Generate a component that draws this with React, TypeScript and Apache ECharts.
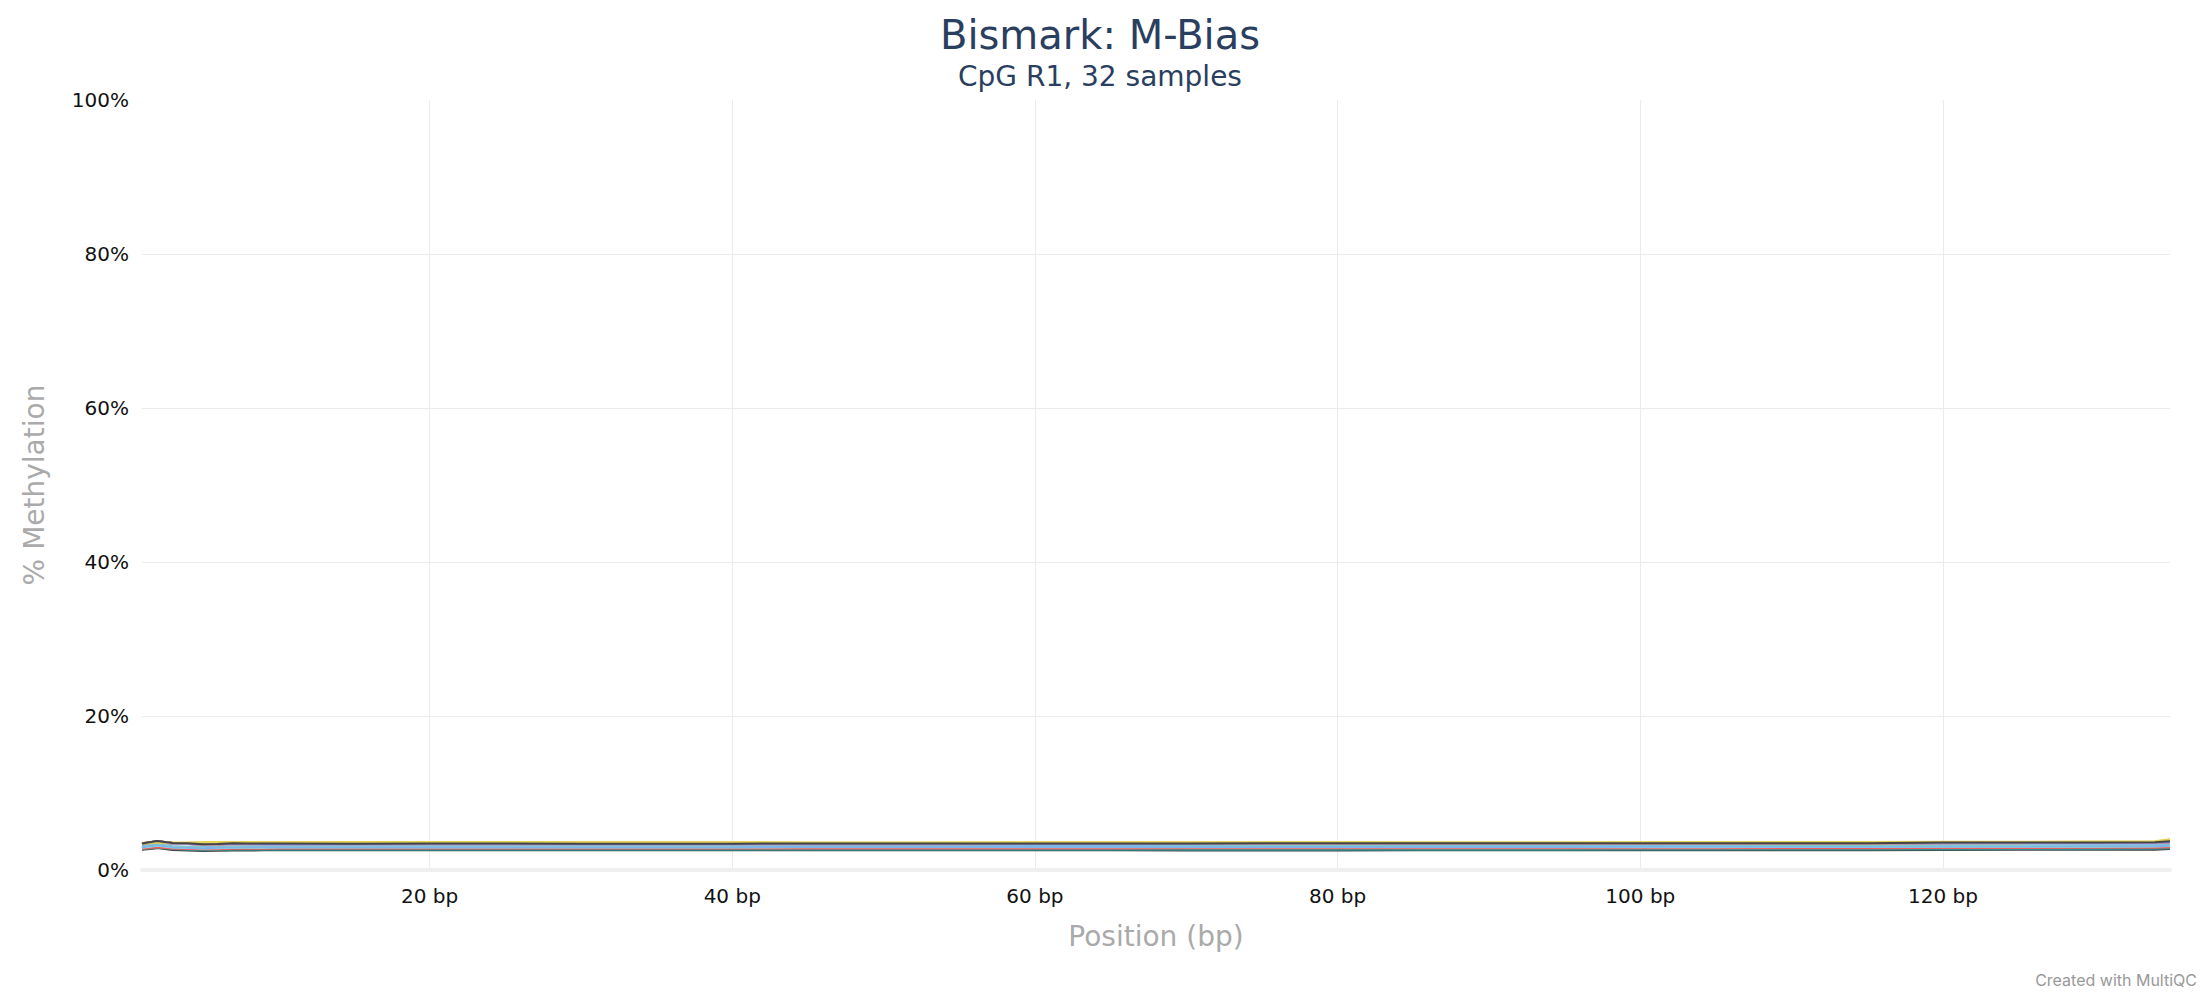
import React, { useEffect, useRef } from "react";
import * as echarts from "echarts";

const TITLE = "Bismark: M-Bias";
const SUBTITLE = "CpG R1, 32 samples";
const X_NAME = "Position (bp)";
const Y_NAME = "% Methylation";
const X_TICKS = [20, 40, 60, 80, 100, 120];
const Y_TICKS = [0, 20, 40, 60, 80, 100];
const Y_GRID = [0, 20, 40, 60, 80];
const COLORS = ["#7cb5ec", "#434348", "#90ed7d", "#f7a35c", "#8085e9", "#f15c80", "#e4d354", "#2b908f", "#f45b5b", "#91e8e1"];

// positions (bp) at which each sample's methylation is read
const POS = [1, 2, 3, 4, 5, 6, 7, 8, 9, 10, 15, 20, 25, 30, 35, 40, 45, 50, 55, 60, 65, 70, 75, 80, 85, 90, 95, 100, 105, 110, 115, 120, 125, 130, 134, 135];

const S01 = [2.98,3.25,3.00,2.92,2.86,2.90,2.95,2.96,2.97,2.98,2.99,3.00,3.00,3.00,3.00,3.00,3.01,3.01,3.01,3.01,3.01,3.01,3.02,3.02,3.02,3.03,3.03,3.04,3.04,3.05,3.05,3.08,3.09,3.10,3.11,3.20];
const S02 = [3.42,3.78,3.52,3.48,3.32,3.36,3.46,3.42,3.41,3.41,3.40,3.41,3.41,3.40,3.40,3.40,3.42,3.42,3.42,3.43,3.43,3.43,3.43,3.44,3.44,3.45,3.45,3.45,3.46,3.46,3.47,3.55,3.56,3.57,3.58,3.66];
const S03 = [3.00,3.26,3.02,2.94,2.88,2.92,2.97,2.98,2.99,3.00,3.01,3.02,3.02,3.02,3.02,3.02,3.03,3.03,3.03,3.03,3.03,3.04,3.04,3.04,3.05,3.05,3.05,3.06,3.06,3.07,3.07,3.10,3.11,3.12,3.13,3.22];
const S04 = [3.38,3.70,3.48,3.44,3.30,3.33,3.42,3.39,3.38,3.38,3.38,3.39,3.39,3.38,3.38,3.38,3.40,3.40,3.40,3.41,3.41,3.41,3.42,3.42,3.42,3.43,3.43,3.43,3.44,3.44,3.45,3.52,3.53,3.54,3.55,3.64];
const S05 = [3.36,3.66,3.44,3.40,3.27,3.30,3.38,3.36,3.35,3.35,3.35,3.36,3.36,3.35,3.35,3.35,3.37,3.37,3.37,3.38,3.38,3.38,3.39,3.39,3.39,3.40,3.40,3.40,3.41,3.41,3.42,3.48,3.49,3.50,3.51,3.60];
const S06 = [2.80,3.00,2.84,2.78,2.74,2.77,2.81,2.82,2.83,2.84,2.85,2.85,2.85,2.85,2.85,2.85,2.86,2.86,2.86,2.86,2.86,2.87,2.87,2.87,2.87,2.88,2.88,2.88,2.89,2.89,2.90,2.92,2.93,2.94,2.95,3.02];
const S07 = [3.50,3.62,3.56,3.56,3.60,3.63,3.62,3.62,3.62,3.62,3.62,3.62,3.62,3.62,3.62,3.62,3.58,3.58,3.58,3.59,3.59,3.59,3.60,3.60,3.60,3.61,3.61,3.62,3.63,3.63,3.64,3.66,3.68,3.70,3.72,3.98];
const S08 = [2.72,2.92,2.74,2.66,2.58,2.62,2.66,2.66,2.66,2.66,2.66,2.66,2.66,2.66,2.66,2.66,2.66,2.66,2.66,2.66,2.66,2.65,2.65,2.65,2.66,2.66,2.66,2.67,2.67,2.68,2.68,2.72,2.74,2.76,2.78,2.86];
const S09 = [2.78,2.98,2.80,2.74,2.70,2.73,2.77,2.78,2.79,2.80,2.81,2.81,2.81,2.81,2.81,2.81,2.82,2.82,2.82,2.82,2.82,2.83,2.83,2.83,2.83,2.84,2.84,2.84,2.85,2.85,2.86,2.88,2.89,2.90,2.91,2.98];
const S10 = [2.92,3.18,2.94,2.87,2.81,2.85,2.90,2.91,2.92,2.93,2.94,2.95,2.95,2.95,2.95,2.95,2.96,2.96,2.96,2.96,2.96,2.97,2.97,2.97,2.98,2.98,2.98,2.99,2.99,3.00,3.00,3.03,3.04,3.05,3.06,3.14];
const S11 = [3.02,3.30,3.04,2.96,2.90,2.94,2.99,3.00,3.01,3.02,3.03,3.04,3.04,3.04,3.04,3.04,3.05,3.05,3.05,3.05,3.05,3.06,3.06,3.06,3.07,3.07,3.07,3.08,3.08,3.09,3.09,3.12,3.13,3.14,3.15,3.24];
const S12 = [3.48,3.72,3.55,3.50,3.38,3.40,3.50,3.46,3.45,3.45,3.44,3.45,3.45,3.45,3.44,3.44,3.46,3.46,3.47,3.47,3.47,3.48,3.48,3.48,3.49,3.49,3.50,3.50,3.50,3.51,3.51,3.58,3.59,3.60,3.60,3.70];
const S13 = [3.04,3.28,3.06,2.98,2.92,2.96,3.01,3.02,3.03,3.04,3.05,3.06,3.06,3.06,3.06,3.06,3.07,3.07,3.07,3.07,3.08,3.08,3.08,3.08,3.09,3.09,3.09,3.10,3.10,3.11,3.11,3.14,3.15,3.16,3.17,3.26];
const S14 = [3.44,3.74,3.52,3.47,3.35,3.38,3.46,3.43,3.42,3.42,3.42,3.43,3.43,3.42,3.42,3.42,3.44,3.44,3.44,3.45,3.45,3.45,3.46,3.46,3.46,3.47,3.47,3.47,3.48,3.48,3.49,3.56,3.57,3.58,3.59,3.68];
const S15 = [3.30,3.60,3.38,3.34,3.21,3.24,3.32,3.30,3.29,3.29,3.29,3.30,3.30,3.29,3.29,3.29,3.31,3.31,3.31,3.32,3.32,3.32,3.33,3.33,3.33,3.34,3.34,3.34,3.35,3.35,3.36,3.42,3.43,3.44,3.45,3.54];
const S16 = [2.84,3.04,2.87,2.81,2.77,2.80,2.84,2.85,2.86,2.87,2.88,2.88,2.88,2.88,2.88,2.88,2.89,2.89,2.89,2.89,2.89,2.90,2.90,2.90,2.90,2.91,2.91,2.91,2.92,2.92,2.93,2.95,2.96,2.97,2.98,3.06];
const S17 = [3.40,3.58,3.50,3.52,3.55,3.58,3.58,3.57,3.57,3.57,3.56,3.56,3.56,3.56,3.56,3.55,3.52,3.52,3.53,3.53,3.53,3.54,3.54,3.54,3.55,3.55,3.55,3.56,3.56,3.57,3.57,3.60,3.62,3.63,3.65,3.90];
const S18 = [2.76,2.96,2.78,2.70,2.62,2.66,2.70,2.70,2.70,2.70,2.70,2.70,2.70,2.70,2.70,2.70,2.70,2.70,2.70,2.70,2.70,2.69,2.69,2.69,2.70,2.70,2.70,2.71,2.71,2.72,2.72,2.76,2.78,2.80,2.82,2.90];
const S19 = [2.82,3.02,2.84,2.78,2.74,2.77,2.81,2.82,2.83,2.84,2.85,2.85,2.85,2.85,2.85,2.85,2.86,2.86,2.86,2.86,2.86,2.87,2.87,2.87,2.87,2.88,2.88,2.88,2.89,2.89,2.90,2.92,2.93,2.94,2.95,3.02];
const S20 = [2.95,3.21,2.97,2.90,2.84,2.88,2.93,2.94,2.95,2.96,2.97,2.98,2.98,2.98,2.98,2.98,2.99,2.99,2.99,2.99,2.99,3.00,3.00,3.00,3.01,3.01,3.01,3.02,3.02,3.03,3.03,3.06,3.07,3.08,3.09,3.17];
const S21 = [3.06,3.32,3.08,3.00,2.94,2.98,3.03,3.04,3.05,3.06,3.07,3.08,3.08,3.08,3.08,3.08,3.09,3.09,3.09,3.09,3.10,3.10,3.10,3.10,3.11,3.11,3.11,3.12,3.12,3.13,3.13,3.16,3.17,3.18,3.19,3.28];
const S22 = [2.62,2.84,2.60,2.52,2.46,2.50,2.54,2.54,2.55,2.55,2.55,2.55,2.55,2.55,2.55,2.55,2.55,2.55,2.55,2.55,2.55,2.54,2.54,2.54,2.55,2.55,2.55,2.56,2.56,2.57,2.57,2.60,2.62,2.63,2.64,2.72];
const S23 = [2.97,3.24,2.99,2.91,2.85,2.89,2.94,2.95,2.96,2.97,2.98,2.99,2.99,2.99,2.99,2.99,3.00,3.00,3.00,3.00,3.00,3.01,3.01,3.01,3.02,3.02,3.02,3.03,3.03,3.04,3.04,3.07,3.08,3.09,3.10,3.18];
const S24 = [3.34,3.66,3.44,3.40,3.26,3.29,3.38,3.35,3.34,3.34,3.34,3.35,3.35,3.34,3.34,3.34,3.36,3.36,3.36,3.37,3.37,3.37,3.38,3.38,3.38,3.39,3.39,3.39,3.40,3.40,3.41,3.48,3.49,3.50,3.51,3.60];
const S25 = [3.40,3.70,3.48,3.44,3.31,3.34,3.42,3.40,3.39,3.39,3.39,3.40,3.40,3.39,3.39,3.39,3.41,3.41,3.41,3.42,3.42,3.42,3.43,3.43,3.43,3.44,3.44,3.45,3.46,3.47,3.47,3.52,3.53,3.54,3.55,3.64];
const S26 = [2.79,2.99,2.82,2.76,2.72,2.75,2.79,2.80,2.81,2.82,2.83,2.83,2.83,2.83,2.83,2.83,2.84,2.84,2.84,2.84,2.84,2.85,2.85,2.85,2.85,2.86,2.86,2.86,2.87,2.87,2.88,2.90,2.91,2.92,2.93,3.00];
const S27 = [3.45,3.60,3.52,3.54,3.57,3.60,3.60,3.59,3.59,3.59,3.59,3.59,3.59,3.58,3.58,3.58,3.55,3.55,3.55,3.56,3.56,3.56,3.57,3.57,3.57,3.58,3.58,3.58,3.59,3.59,3.60,3.62,3.64,3.66,3.68,3.95];
const S28 = [2.70,2.90,2.72,2.64,2.56,2.60,2.64,2.64,2.64,2.64,2.64,2.64,2.64,2.64,2.64,2.64,2.64,2.64,2.64,2.64,2.64,2.63,2.63,2.63,2.64,2.64,2.64,2.65,2.65,2.66,2.66,2.70,2.72,2.74,2.76,2.84];
const S29 = [2.76,2.96,2.78,2.72,2.68,2.71,2.75,2.76,2.77,2.78,2.79,2.79,2.79,2.79,2.79,2.79,2.80,2.80,2.80,2.80,2.80,2.81,2.81,2.81,2.81,2.82,2.82,2.82,2.83,2.83,2.84,2.86,2.87,2.88,2.89,2.96];
const S30 = [2.90,3.16,2.92,2.85,2.79,2.83,2.88,2.89,2.90,2.91,2.92,2.93,2.93,2.93,2.93,2.93,2.94,2.94,2.94,2.94,2.94,2.95,2.95,2.95,2.96,2.96,2.96,2.97,2.97,2.98,2.98,3.01,3.02,3.03,3.04,3.12];
const S31 = [2.95,3.22,2.97,2.90,2.84,2.88,2.93,2.94,2.95,2.96,2.97,2.97,2.97,2.97,2.97,2.97,2.98,2.98,2.98,2.98,2.99,2.99,2.99,2.99,3.00,3.00,3.00,3.01,3.01,3.02,3.02,3.05,3.06,3.07,3.08,3.16];
const S32 = [3.44,3.76,3.50,3.46,3.34,3.38,3.47,3.43,3.43,3.43,3.42,3.43,3.43,3.42,3.42,3.42,3.44,3.44,3.44,3.45,3.45,3.45,3.46,3.46,3.46,3.47,3.47,3.47,3.48,3.48,3.49,3.56,3.57,3.58,3.59,3.72];

const SAMPLES = [S01, S02, S03, S04, S05, S06, S07, S08, S09, S10, S11, S12, S13, S14, S15, S16,
  S17, S18, S19, S20, S21, S22, S23, S24, S25, S26, S27, S28, S29, S30, S31, S32];

const FONT = "DejaVu Sans";

export default function App() {
  const ref = useRef<HTMLDivElement>(null);
  useEffect(() => {
    if (!ref.current) return;
    const chart = echarts.init(ref.current, null, { renderer: "svg" });
    const series = SAMPLES.map((arr, si) => ({
      name: "Sample " + String(si + 1).padStart(2, "0"),
      type: "line",
      showSymbol: false,
      symbol: "none",
      lineStyle: { width: 2 },
      data: POS.map((p, i) => [p, arr[i]]),
    }));
    chart.setOption({
      animation: false,
      color: COLORS,
      backgroundColor: "#ffffff",
      title: {
        text: TITLE,
        subtext: SUBTITLE,
        left: "center",
        top: 15,
        padding: 0,
        itemGap: 7,
        textStyle: { fontFamily: FONT, fontSize: 40, fontWeight: "normal", color: "#2a3f5f" },
        subtextStyle: { fontFamily: FONT, fontSize: 28, color: "#2a3f5f" },
      },
      grid: { left: 142, right: 30, top: 100, bottom: 130, containLabel: false },
      xAxis: {
        type: "value",
        min: 1,
        max: 135,
        name: X_NAME,
        nameLocation: "middle",
        nameGap: 52,
        nameTextStyle: { fontFamily: FONT, fontSize: 28, color: "#aaaaaa" },
        axisLine: { show: true, lineStyle: { color: "#efefef", width: 4 } },
        axisTick: { show: false, customValues: X_TICKS },
        axisLabel: {
          customValues: X_TICKS,
          formatter: "{value} bp",
          fontFamily: FONT,
          fontSize: 20,
          color: "#111111",
          margin: 16,
        },
        splitLine: { show: true, lineStyle: { color: "#ebebeb", width: 1 } },
      },
      yAxis: {
        type: "value",
        min: 0,
        max: 100,
        interval: 20,
        name: Y_NAME,
        nameLocation: "middle",
        nameRotate: 90,
        nameGap: 94,
        nameTextStyle: { fontFamily: FONT, fontSize: 28, color: "#aaaaaa" },
        axisLine: { show: false },
        axisTick: { show: false, customValues: Y_GRID },
        axisLabel: {
          customValues: Y_TICKS,
          formatter: "{value}%",
          fontFamily: FONT,
          fontSize: 20,
          color: "#111111",
          margin: 13,
        },
        splitLine: { show: true, lineStyle: { color: "#ebebeb", width: 1 } },
      },
      graphic: [
        {
          type: "text",
          right: 3,
          top: 972,
          style: { text: "Created with MultiQC", fontFamily: "Inter", fontSize: 16, fill: "#999999" },
        },
      ],
      series,
    });
    return () => chart.dispose();
  }, []);
  return (
    <div
      ref={ref}
      style={{ position: "fixed", left: 0, top: 0, width: "2200px", height: "1000px", background: "#fff" }}
    />
  );
}
